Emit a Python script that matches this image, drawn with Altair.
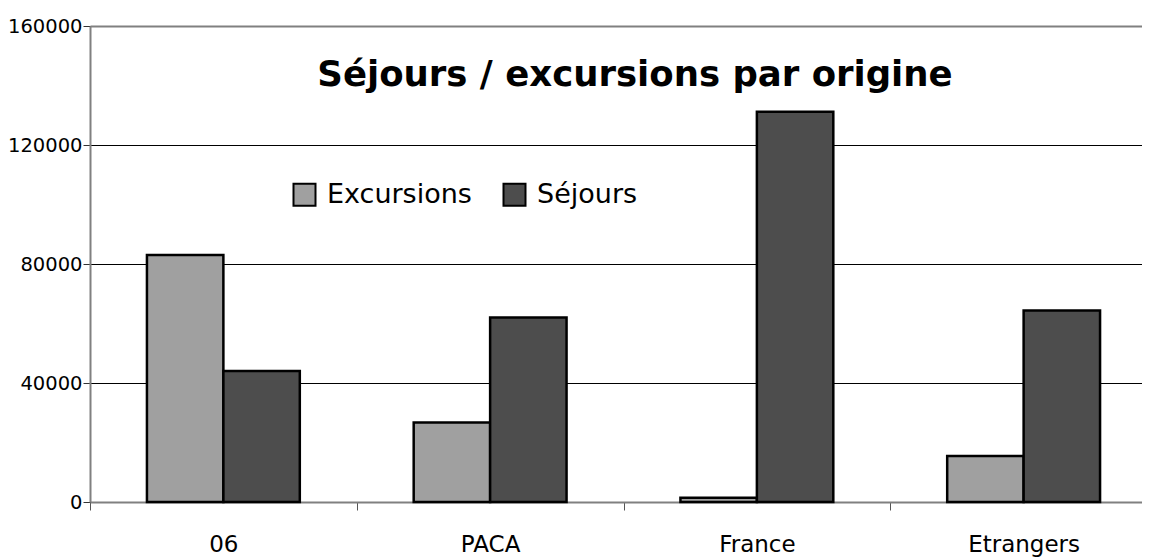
import altair as alt
import pandas as pd

categories = ["06", "PACA", "France", "Etrangers"]
series_names = ["Excursions", "Séjours"]
excursions = [83000, 26700, 1400, 15500]
sejours = [44000, 62000, 131200, 64400]
y_ticks = [0, 40000, 80000, 120000, 160000]
colors = ["#A0A0A0", "#4D4D4D"]

rows = []
for i, c in enumerate(categories):
    rows.append({"origine": c, "type": series_names[0], "valeur": excursions[i]})
    rows.append({"origine": c, "type": series_names[1], "valeur": sejours[i]})
df = pd.DataFrame(rows)

FONT = "DejaVu Sans"

bars = alt.Chart(df).mark_bar(stroke="black", strokeWidth=2.5).encode(
    x=alt.X(
        "origine:N",
        sort=categories,
        scale=alt.Scale(range=[0, 1067], paddingInner=0, paddingOuter=0),
        axis=alt.Axis(
            title=None,
            labelAngle=0,
            labelFont=FONT,
            labelFontSize=23,
            labelColor="black",
            labelBaseline="alphabetic",
            labelPadding=41,
            tickBand="extent",
            tickSize=8,
            tickColor="#555555",
            tickWidth=1,
            domainColor="#808080",
            domainWidth=2,
            grid=False,
        ),
    ),
    xOffset=alt.XOffset(
        "type:N",
        sort=series_names,
        scale=alt.Scale(paddingInner=0, paddingOuter=0.745),
    ),
    y=alt.Y(
        "valeur:Q",
        scale=alt.Scale(domain=[0, 160000], nice=False),
        axis=alt.Axis(
            title=None,
            values=y_ticks,
            format="d",
            labelFont=FONT,
            labelFontSize=19.5,
            labelColor="black",
            labelPadding=1,
            tickSize=7,
            tickColor="#333333",
            domainColor="#808080",
            domainWidth=2,
            grid=True,
            gridColor=alt.condition("datum.value == 160000", alt.value("#808080"), alt.value("black")),
            gridWidth=alt.condition("datum.value == 160000", alt.value(2), alt.value(1)),
            gridOpacity=1,
        ),
    ),
    color=alt.Color(
        "type:N",
        sort=series_names,
        scale=alt.Scale(domain=series_names, range=colors),
        legend=alt.Legend(
            title=None,
            orient="none",
            legendX=201,
            legendY=155,
            direction="horizontal",
            symbolType="square",
            symbolSize=484,
            symbolStrokeColor="black",
            symbolStrokeWidth=2,
            symbolOpacity=1,
            labelFont=FONT,
            labelFontSize=27,
            labelColor="black",
            labelOffset=9,
            columnPadding=27,
            padding=0,
        ),
    ),
)

chart = bars.properties(
    width=1052,
    height=476,
    autosize=alt.AutoSizeParams(type="none"),
    padding={"left": 82, "top": 18, "right": 0, "bottom": 57},
    title=alt.TitleParams(
        text="Séjours / excursions par origine",
        font=FONT,
        fontSize=35.5,
        fontWeight="bold",
        color="black",
        anchor="middle",
        frame="group",
        baseline="alphabetic",
        offset=0,
        dx=19,
        dy=105,
    ),
).configure_view(fill="#C0C0C0", stroke=None).configure(background="white")

chart.save("out.html", embed_options={"renderer": "svg", "actions": False})
